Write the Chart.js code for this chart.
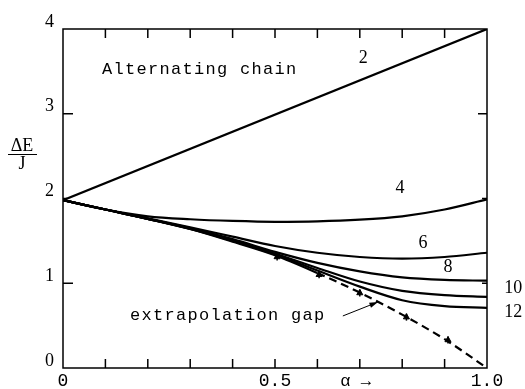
<!DOCTYPE html>
<html>
<head>
<meta charset="utf-8">
<script src="https://cdn.jsdelivr.net/npm/chart.js@4.4.1/dist/chart.umd.min.js"></script>
<style>
  html, body { margin: 0; padding: 0; background: #fff; }
  #wrap { width: 525px; height: 389px; }
</style>
</head>
<body>
<div id="wrap"><canvas id="myChart"></canvas></div>
<script>
// alpha grid shared by the finite-chain curves
const alpha = [0, 0.1, 0.2, 0.3, 0.4, 0.5, 0.6, 0.7, 0.8, 0.9, 1.0];

const chainN = ['2', '4', '6', '8', '10', '12'];
const alpha2 = [0, 1.0];
const gap2 = [1.98, 4.0];
const gap4 = [1.98, 1.87, 1.79, 1.755, 1.735, 1.725, 1.73, 1.75, 1.79, 1.87, 1.99];
const gap6 = [1.98, 1.87, 1.765, 1.66, 1.55, 1.44, 1.36, 1.31, 1.29, 1.31, 1.36];
const gap8 = [1.98, 1.87, 1.76, 1.65, 1.52, 1.37, 1.24, 1.14, 1.07, 1.04, 1.03];
const gap10 = [1.98, 1.87, 1.76, 1.645, 1.51, 1.35, 1.18, 1.02, 0.91, 0.86, 0.84];
const gap12 = [1.98, 1.87, 1.76, 1.64, 1.50, 1.34, 1.15, 0.96, 0.80, 0.73, 0.71];
// infinite chain: solid up to 0.6, extrapolated (dashed) after
const gapInf = [1.98, 1.87, 1.76, 1.64, 1.49, 1.33, 1.12, 0.89, 0.63, 0.34, 0];
const extrapAlpha = [0.505, 0.604, 0.70, 0.81, 0.908];
const extrapGap = [1.31, 1.10, 0.885, 0.60, 0.33];

const xTickValues = [0, 0.5, 1.0];
const xTickLabels = ['0', '0.5', '1.0'];
const xMinorTicks = [0.1, 0.2, 0.3, 0.4, 0.5, 0.6, 0.7, 0.8, 0.9];
const yTickValues = [0, 1, 2, 3, 4];
const yTickLabels = ['0', '1', '2', '3', '4'];

const pts = (xs, ys) => ys.map((v, i) => ({ x: xs[i], y: v }));

const curve = (xs, ys) => ({
  data: pts(xs, ys),
  borderColor: '#000',
  borderWidth: 2.2,
  pointRadius: 0,
  cubicInterpolationMode: 'monotone',
  fill: false
});

// where each curve's N is written (data coords)
const curveLabelAt = [[0.708, 3.66], [0.795, 2.12], [0.849, 1.475], [0.908, 1.19], [1.062, 0.944], [1.062, 0.66]];

const decorations = {
  id: 'decorations',
  afterDraw(chart) {
    const { ctx, chartArea: a, scales: { x, y } } = chart;
    ctx.save();
    ctx.setLineDash([]);
    ctx.strokeStyle = '#000';
    ctx.fillStyle = '#000';
    ctx.lineWidth = 1.5;
    ctx.strokeRect(a.left, a.top, a.right - a.left, a.bottom - a.top);

    // inward ticks
    xMinorTicks.forEach(v => {
      const px = x.getPixelForValue(v);
      ctx.fillRect(px - 0.75, a.bottom - 9, 1.5, 9);
      ctx.fillRect(px - 0.75, a.top, 1.5, 9);
    });
    [1, 2, 3].forEach(v => {
      const py = y.getPixelForValue(v);
      const len = v === 2 ? 4 : 10;
      ctx.fillRect(a.left, py - 0.75, len, 1.5);
      const rlen = v === 3 ? 9 : 5;
      ctx.fillRect(a.right - rlen, py - 0.75, rlen, 1.5);
    });

    // y title as a fraction
    ctx.font = '18px "Liberation Serif"';
    ctx.textAlign = 'center';
    ctx.textBaseline = 'middle';
    ctx.fillText('\u0394E', 22, 146);
    ctx.fillRect(8, 154, 29, 1);
    ctx.fillText('J', 22, 164);

    // x title
    ctx.font = '17px "Liberation Mono"';
    ctx.fillText('\u03b1 \u2192', x.getPixelForValue(0.69), 381);

    // curve numbers
    ctx.font = '18px "Liberation Serif"';
    chainN.forEach((n, i) => {
      const [ax, ay] = curveLabelAt[i];
      ctx.fillText(n, x.getPixelForValue(ax), y.getPixelForValue(ay));
    });

    // texts
    ctx.font = '17px "Liberation Mono"';
    ctx.letterSpacing = '1.3px';
    ctx.textAlign = 'left';
    ctx.fillText('Alternating chain', x.getPixelForValue(0.092), y.getPixelForValue(3.52));
    ctx.fillText('extrapolation gap', x.getPixelForValue(0.158), y.getPixelForValue(0.625));
    ctx.letterSpacing = '0px';

    // arrow to the dashed line
    const x0 = x.getPixelForValue(0.66), y0 = y.getPixelForValue(0.614);
    const x1 = x.getPixelForValue(0.743), y1 = y.getPixelForValue(0.779);
    const ang = Math.atan2(y1 - y0, x1 - x0);
    ctx.lineWidth = 1;
    ctx.beginPath();
    ctx.moveTo(x0, y0); ctx.lineTo(x1, y1);
    ctx.stroke();
    ctx.beginPath();
    ctx.moveTo(x1, y1);
    ctx.lineTo(x1 - 9 * Math.cos(ang - 0.3), y1 - 9 * Math.sin(ang - 0.3));
    ctx.lineTo(x1 - 9 * Math.cos(ang + 0.3), y1 - 9 * Math.sin(ang + 0.3));
    ctx.closePath();
    ctx.fill();
    ctx.restore();
  }
};

new Chart(document.getElementById('myChart'), {
  type: 'line',
  data: {
    datasets: [
      { ...curve(alpha2, gap2), cubicInterpolationMode: 'default', tension: 0 },
      curve(alpha, gap4),
      curve(alpha, gap6),
      curve(alpha, gap8),
      curve(alpha, gap10),
      curve(alpha, gap12),
      {
        ...curve(alpha, gapInf),
        segment: { borderDash: c => c.p0.parsed.x >= 0.6 ? [8, 5] : undefined }
      },
      {
        data: pts(extrapAlpha, extrapGap),
        showLine: false,
        pointStyle: 'triangle',
        rotation: 121,
        pointRadius: 3.5,
        backgroundColor: '#000',
        borderColor: '#000',
        borderWidth: 1
      },
      {
        data: pts(extrapAlpha, extrapGap),
        showLine: false,
        pointStyle: 'line',
        rotation: 90,
        pointRadius: 3.5,
        borderColor: '#000',
        borderWidth: 1.5
      }
    ]
  },
  options: {
    responsive: true,
    maintainAspectRatio: false,
    animation: false,
    events: [],
    layout: { padding: { left: 0, right: 38, top: 29, bottom: 0 } },
    plugins: { legend: { display: false }, tooltip: { enabled: false } },
    scales: {
      x: {
        type: 'linear',
        min: 0,
        max: 1,
        grid: { display: false, drawTicks: false },
        border: { display: false },
        afterBuildTicks: s => { s.ticks = xTickValues.map(v => ({ value: v })); },
        afterFit: s => { s.height = 21; },
        ticks: {
          color: '#000',
          padding: 2,
          maxRotation: 0,
          font: { family: 'Liberation Mono', size: 18 },
          callback: v => xTickLabels[xTickValues.indexOf(v)]
        }
      },
      y: {
        type: 'linear',
        min: 0,
        max: 4,
        grid: { display: false, drawTicks: false },
        border: { display: false },
        afterBuildTicks: s => { s.ticks = yTickValues.map(v => ({ value: v })); },
        afterFit: s => { s.width = 63; },
        ticks: {
          color: '#000',
          padding: 9,
          labelOffset: -7,
          font: { family: 'Liberation Serif', size: 18 },
          callback: v => yTickLabels[yTickValues.indexOf(v)]
        }
      }
    }
  },
  plugins: [decorations]
});
</script>
</body>
</html>
